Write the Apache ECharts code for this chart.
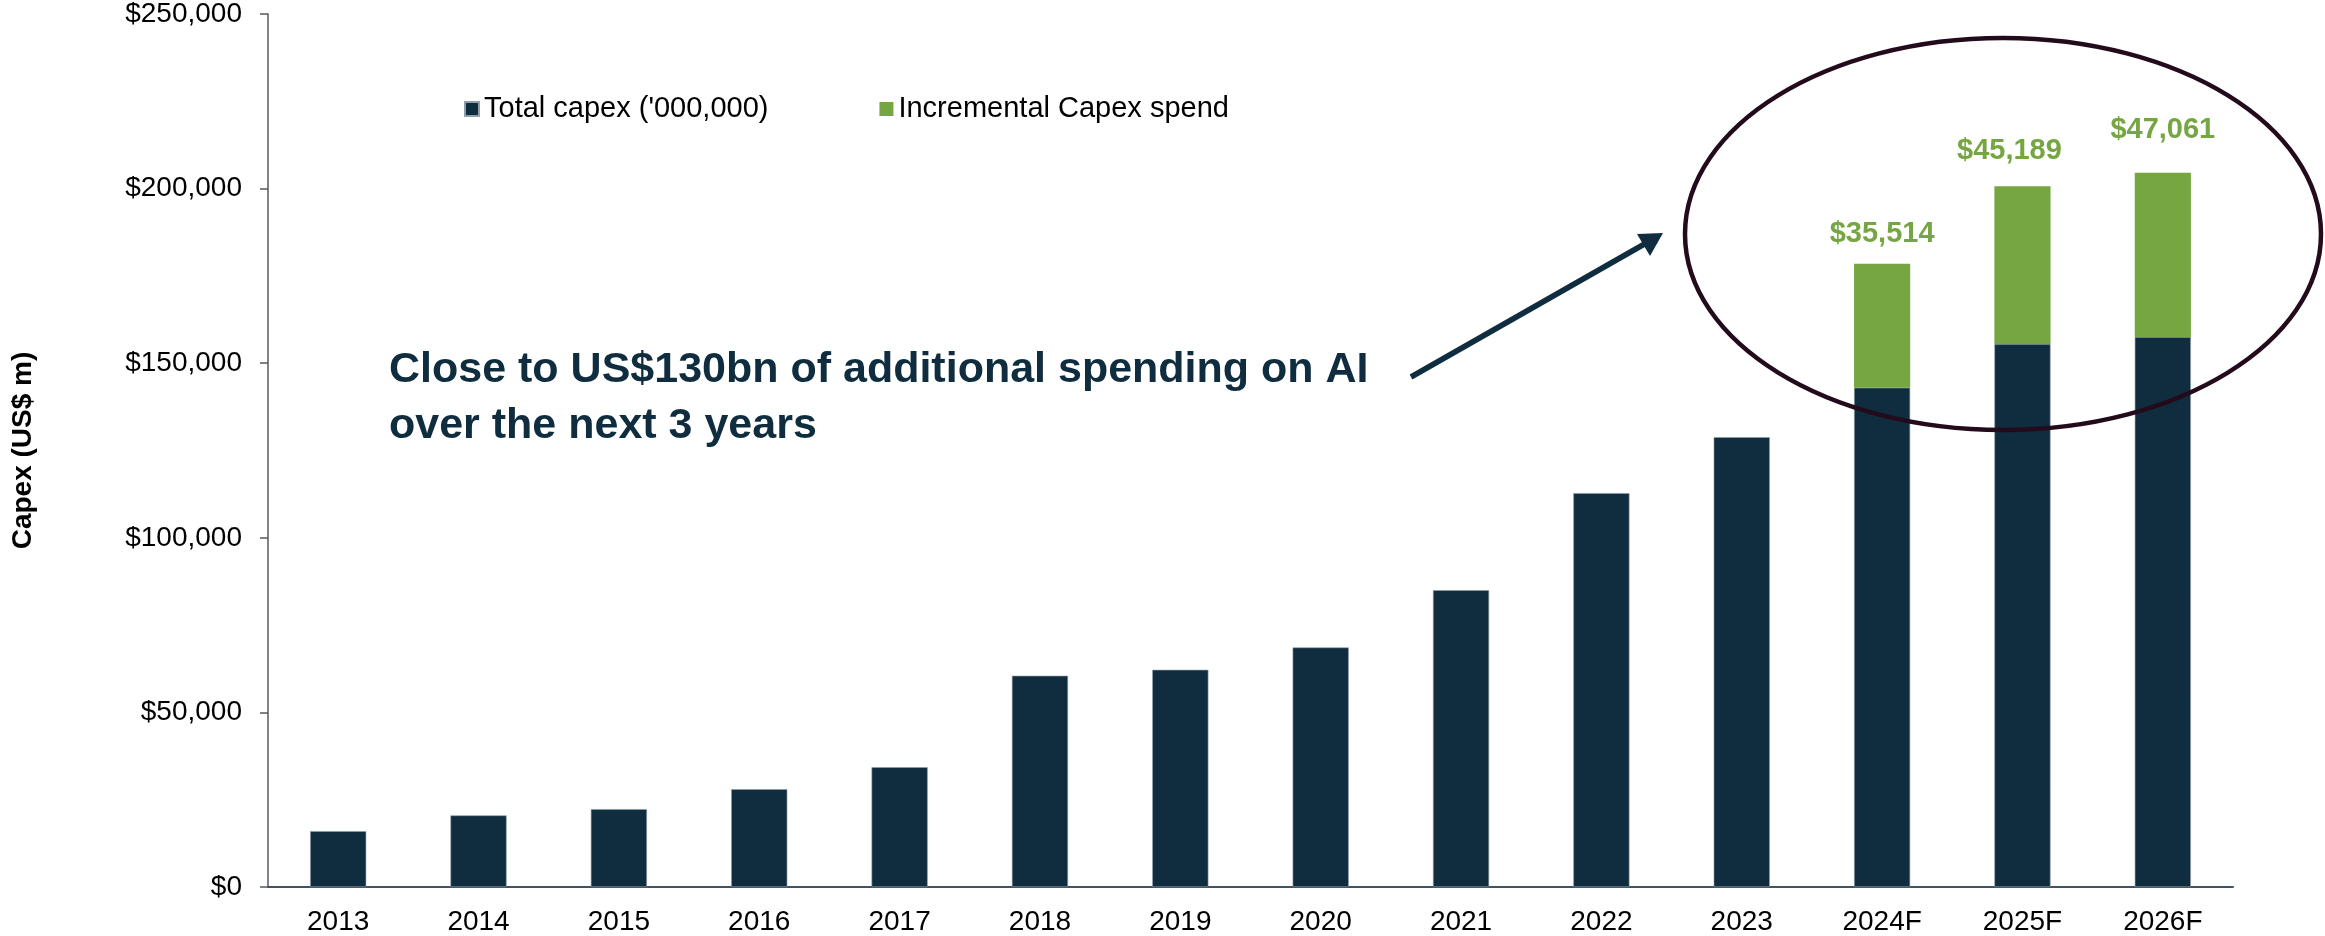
<!DOCTYPE html>
<html>
<head>
<meta charset="utf-8">
<script src="https://cdn.jsdelivr.net/npm/echarts@6/dist/echarts.min.js"></script>
<style>
  html, body { margin: 0; padding: 0; background: #ffffff; }
  #chart { width: 2325px; height: 936px; }
</style>
</head>
<body>
<div id="chart"></div>
<script>
// Hyperscaler capex, US$ m
const years = ['2013', '2014', '2015', '2016', '2017', '2018', '2019', '2020', '2021', '2022', '2023', '2024F', '2025F', '2026F'];
const totalCapex = [16000, 20500, 22300, 28000, 34300, 60500, 62200, 68600, 85000, 112800, 128800, 143000, 155500, 157500];
const incrementalCapex = [null, null, null, null, null, null, null, null, null, null, null, 35514, 45189, 47061];
const yTicks = [0, 50000, 100000, 150000, 200000, 250000];

const NAVY = '#0f2d3e';
const GREEN = '#76a641';
const FONT = '"Liberation Sans", Arial, sans-serif';

function money(v) {
  return '$' + String(Math.round(v)).replace(/\B(?=(\d{3})+(?!\d))/g, ',');
}

// small per-bar nudges for the value labels above the green segments
const labelNudge = { 11: { distance: 15, dx: 0 }, 12: { distance: 21, dx: -13 }, 13: { distance: 28, dx: 0 } };

const incrementalData = incrementalCapex.map((v, i) => {
  if (v == null) return '-';
  const n = labelNudge[i] || { distance: 15, dx: 0 };
  return { value: v, label: { distance: n.distance, offset: [n.dx, 0] } };
});

const chart = echarts.init(document.getElementById('chart'), null, { renderer: 'canvas' });

chart.setOption({
  backgroundColor: '#ffffff',
  animation: false,
  textStyle: { fontFamily: FONT },
  grid: { left: 268, right: 92, top: 10, bottom: 49, containLabel: false },
  legend: {
    left: 459,
    top: 89,
    itemGap: 111,
    itemWidth: 14,
    itemHeight: 14,
    icon: 'rect',
    textStyle: { fontFamily: FONT, fontSize: 29, color: '#000000', lineHeight: 30 },
    data: ["Total capex ('000,000)", 'Incremental Capex spend']
  },
  xAxis: {
    type: 'category',
    data: years,
    axisLine: { show: true, lineStyle: { color: '#3f5563', width: 2 } },
    axisTick: { show: false },
    axisLabel: { fontFamily: FONT, fontSize: 28, color: '#000000', margin: 21, interval: 0 },
    splitLine: { show: false }
  },
  yAxis: {
    type: 'value',
    min: yTicks[0],
    max: yTicks[yTicks.length - 1],
    interval: yTicks[1] - yTicks[0],
    name: 'Capex (US$ m)',
    nameLocation: 'middle',
    nameGap: 231,
    nameRotate: 90,
    nameTextStyle: { fontFamily: FONT, fontSize: 28, fontWeight: 'bold', color: '#000000' },
    axisLine: { show: true, lineStyle: { color: '#595959', width: 1.5 } },
    axisTick: { show: true, inside: false, length: 8, lineStyle: { color: '#595959', width: 1.5 } },
    axisLabel: { fontFamily: FONT, fontSize: 28, color: '#000000', margin: 26, formatter: money },
    splitLine: { show: false }
  },
  series: [
    {
      name: "Total capex ('000,000)",
      type: 'bar',
      stack: 'capex',
      barWidth: '40%',
      data: totalCapex,
      itemStyle: { color: NAVY, borderColor: '#8fa0aa', borderWidth: 0.6 }
    },
    {
      name: 'Incremental Capex spend',
      type: 'bar',
      stack: 'capex',
      barWidth: '40%',
      data: incrementalData,
      itemStyle: { color: GREEN },
      label: {
        show: true,
        position: 'top',
        fontFamily: FONT,
        fontSize: 29,
        fontWeight: 'bold',
        color: GREEN,
        formatter: p => money(p.value)
      }
    }
  ],
  graphic: [
    {
      type: 'ellipse',
      shape: { cx: 2003, cy: 234, rx: 318, ry: 196 },
      style: { fill: 'none', stroke: '#230b1c', lineWidth: 4.5 },
      z: 10
    },
    {
      type: 'line',
      shape: { x1: 1411, y1: 377, x2: 1648, y2: 242 },
      style: { stroke: NAVY, lineWidth: 5.5 },
      z: 10
    },
    {
      type: 'polygon',
      shape: { points: [[1663, 233], [1637, 234], [1650, 256]] },
      style: { fill: NAVY },
      z: 10
    },
    {
      type: 'text',
      left: 389,
      top: 342,
      style: {
        text: 'Close to US$130bn of additional spending on AI\nover the next 3 years',
        font: 'bold 43px ' + FONT,
        fill: NAVY,
        lineHeight: 56
      },
      z: 10
    }
  ]
});
</script>
</body>
</html>
